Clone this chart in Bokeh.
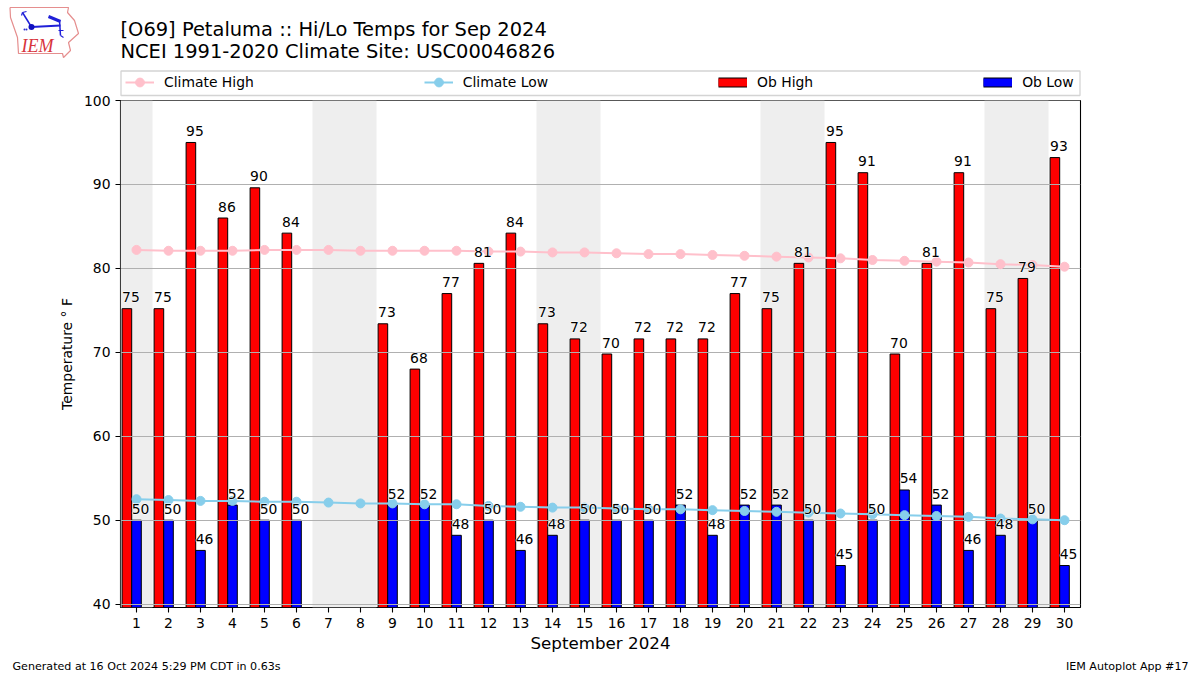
from bokeh.plotting import figure
from bokeh.layouts import column
from bokeh.models import ColumnDataSource, Range1d, FixedTicker, Legend, LegendItem
from bokeh.core.properties import value
from bokeh.embed import file_html
from bokeh.resources import INLINE

FONT = "DejaVu Sans"
days = list(range(1, 31))
ob_days = [1,2,3,4,5,6,9,10,11,12,13,14,15,16,17,18,19,20,21,22,23,24,25,26,27,28,29,30]
ob_high = [75.2,75.2,95.0,86.0,89.6,84.2,73.4,68.0,77.0,80.6,84.2,73.4,71.6,69.8,71.6,71.6,71.6,77.0,75.2,80.6,95.0,91.4,69.8,80.6,91.4,75.2,78.8,93.2]
ob_low = [50.0,50.0,46.4,51.8,50.0,50.0,51.8,51.8,48.2,50.0,46.4,48.2,50.0,50.0,50.0,51.8,48.2,51.8,51.8,50.0,44.6,50.0,53.6,51.8,46.4,48.2,50.0,44.6]
high_labels = ["75","75","95","86","90","84","73","68","77","81","84","73","72","70","72","72","72","77","75","81","95","91","70","81","91","75","79","93"]
low_labels = ["50","50","46","52","50","50","52","52","48","50","46","48","50","50","50","52","48","52","52","50","45","50","54","52","46","48","50","45"]
climate_high = [82.2,82.1,82.1,82.1,82.2,82.2,82.2,82.1,82.1,82.1,82.1,82.0,82.0,81.9,81.9,81.8,81.7,81.7,81.6,81.5,81.4,81.3,81.2,81.0,80.9,80.8,80.7,80.5,80.4,80.2]
climate_low = [52.5,52.4,52.3,52.3,52.2,52.2,52.1,52.0,52.0,51.9,51.9,51.7,51.6,51.5,51.5,51.4,51.3,51.3,51.2,51.1,51.0,50.9,50.8,50.7,50.6,50.5,50.4,50.2,50.1,50.0]
weekend_start = [0.5, 6.5, 13.5, 20.5, 27.5]
weekend_end = [1.5, 8.5, 15.5, 22.5, 29.5]
y_ticks = [40,50,60,70,80,90,100]
title_lines = ["[O69] Petaluma :: Hi/Lo Temps for Sep 2024", "NCEI 1991-2020 Climate Site: USC00046826"]
footer_left = "Generated at 16 Oct 2024 5:29 PM CDT in 0.63s"
footer_right = "IEM Autoplot App #17"
LABEL_GAP = 1.37  # data units between a bar's top and its label's anchor

# ---------- main chart ----------
p = figure(width=1200, height=563, output_backend="svg", toolbar_location=None,
           x_range=Range1d(0.5, 30.5), y_range=Range1d(39.6, 100),
           min_border_left=120, min_border_right=120, min_border_top=8, min_border_bottom=47,
           border_fill_color=None, margin=(-8, 0, 0, 0))
p.grid.visible = False
p.outline_line_color = "black"
p.outline_line_width = 1.1
p.background_fill_color = "white"

p.vstrip(x0=weekend_start, x1=weekend_end, fill_color="#eeeeee", line_color=None)

src_hi = ColumnDataSource(dict(x=[d - 0.30 for d in ob_days], top=ob_high, label=high_labels,
                               lx=[d - 0.45 for d in ob_days], ly=[v + LABEL_GAP for v in ob_high]))
src_lo = ColumnDataSource(dict(x=list(ob_days), top=ob_low, label=low_labels,
                               lx=[d - 0.15 for d in ob_days], ly=[v + LABEL_GAP for v in ob_low]))
p.vbar(x="x", width=0.3, bottom=0, top="top", source=src_hi, fill_color="red", line_color="black", line_width=1)
p.vbar(x="x", width=0.3, bottom=0, top="top", source=src_lo, fill_color="blue", line_color="black", line_width=1)

p.hspan(y=y_ticks, line_color="#b0b0b0", line_width=1)

p.line(days, climate_high, line_color="pink", line_width=2)
p.scatter(days, climate_high, marker="circle", size=9, fill_color="pink", line_color="pink")
p.line(days, climate_low, line_color="skyblue", line_width=2)
p.scatter(days, climate_low, marker="circle", size=9, fill_color="skyblue", line_color="skyblue")

for src in (src_hi, src_lo):
    p.text(x="lx", y="ly", text="label", source=src, text_font=value(FONT), text_font_size="13.9px",
           text_align="left", text_baseline="alphabetic", text_color="white", text_outline_color="white")
    p.text(x="lx", y="ly", text="label", source=src, text_font=value(FONT), text_font_size="13.9px",
           text_align="left", text_baseline="alphabetic", text_color="black")

p.xaxis.ticker = FixedTicker(ticks=days)
p.yaxis.ticker = FixedTicker(ticks=y_ticks)
for ax in (p.xaxis[0], p.yaxis[0]):
    ax.major_label_text_font = FONT
    ax.major_label_text_font_size = "13.9px"
    ax.major_label_text_color = "black"
    ax.axis_label_text_font = FONT
    ax.axis_label_text_font_style = "normal"
    ax.axis_label_text_color = "black"
    ax.major_tick_out = 5
    ax.major_tick_in = 0
    ax.minor_tick_out = 0
    ax.minor_tick_in = 0
    ax.axis_line_color = None
    ax.major_tick_line_color = "black"
    ax.major_tick_line_width = 1.1
p.xaxis.axis_label = "September 2024"
p.xaxis.axis_label_text_font_size = "16.7px"
p.xaxis.major_label_standoff = 5
p.xaxis.axis_label_standoff = 2
p.yaxis.axis_label = "Temperature ° F"
p.yaxis.axis_label_text_font_size = "13.9px"
p.yaxis.axis_label_standoff = 6

# ---------- header: titles, logo, legend ----------
def blank(height, y0, y1):
    f = figure(width=1200, height=height, output_backend="svg", toolbar_location=None,
               x_range=Range1d(0, 1200), y_range=Range1d(y0, y1),
               x_axis_type=None, y_axis_type=None,
               min_border_left=0, min_border_right=0, min_border_top=0, min_border_bottom=0)
    f.grid.visible = False
    f.outline_line_color = None
    f.background_fill_color = None
    f.border_fill_color = None
    return f

h = blank(100, 100, 0)
h.text(x=[120, 120], y=[29, 51], text=title_lines, text_font=value(FONT), text_font_size="19.44px",
       text_align="left", text_baseline="alphabetic", text_color="black")

# logo
logo_outline_x = [9.5,68,67,74,78,68,70,63,62,18,17,10,9.5]
logo_outline_y = [7,7,12,20,33,42,50,57,53,53,37,17,7]
h.line(logo_outline_x, logo_outline_y, line_color="#e58e8e", line_width=1.2)
h.multi_line(xs=[[31,60],[48,60],[31,22],[22,21],[22,26],[59,60],[58,63],[60,63]],
             ys=[[26.5,25],[16,21],[26.5,12],[12,15],[12,11],[20,35],[30,30],[35,37]],
             line_color="#2020d8", line_width=[2,3,1.5,1.2,1.2,1.5,1.2,1.2])
h.scatter([31], [26.5], marker="circle", size=6, fill_color="#1010c0", line_color=None)
h.scatter([24, 26], [29, 29], marker="circle", size=2, fill_color="#3030d0", line_color=None)
h.text(x=[21], y=[45], text=["IEM"], text_font=value("Liberation Serif"), text_font_style="italic",
       text_font_size="18px", text_color="#d8343c", text_baseline="alphabetic")

# legend box, then a borderless legend inside it
h.quad(left=[120.5], right=[1079.5], top=[70.5], bottom=[95], fill_color="white", line_color="#d4d4d4", line_width=1.3)

# legend proxies lie outside the header's visible range
px, py = [-50, -40], [-50, -50]
l1 = h.line(px, py, line_color="pink", line_width=2)
m1 = h.scatter(px, py, marker="circle", size=9, fill_color="pink", line_color="pink")
l2 = h.line(px, py, line_color="skyblue", line_width=2)
m2 = h.scatter(px, py, marker="circle", size=9, fill_color="skyblue", line_color="skyblue")
k1 = h.line(px, py, line_color="black", line_width=10)
k2 = h.line(px, py, line_color="red", line_width=8)
k3 = h.line(px, py, line_color="black", line_width=10)
k4 = h.line(px, py, line_color="blue", line_width=8)
legend = Legend(items=[LegendItem(label="Climate High", renderers=[l1, m1]),
                       LegendItem(label="Climate Low", renderers=[l2, m2]),
                       LegendItem(label="Ob High", renderers=[k1, k2]),
                       LegendItem(label="Ob Low", renderers=[k3, k4])],
                orientation="horizontal", location=(125, 7), spacing=170,
                glyph_width=29, glyph_height=22, label_height=22, label_standoff=10,
                label_text_font=FONT, label_text_font_size="13.9px", label_text_color="black",
                border_line_color=None, background_fill_color=None,
                padding=0, margin=0)
h.add_layout(legend, "center")

# ---------- footer ----------
f = blank(20, 675, 655)
f.text(x=[12], y=[666], text=[footer_left], text_font=value(FONT), text_font_size="11.1px",
       text_align="left", text_baseline="alphabetic", text_color="black")
f.text(x=[1188], y=[666], text=[footer_right], text_font=value(FONT), text_font_size="11.1px",
       text_align="right", text_baseline="alphabetic", text_color="black")

# each figure in its own column, so that the frames are not aligned with each other
page = column(column(h), column(p), column(f), spacing=0)
open("out.html", "w").write(file_html(page, INLINE))
